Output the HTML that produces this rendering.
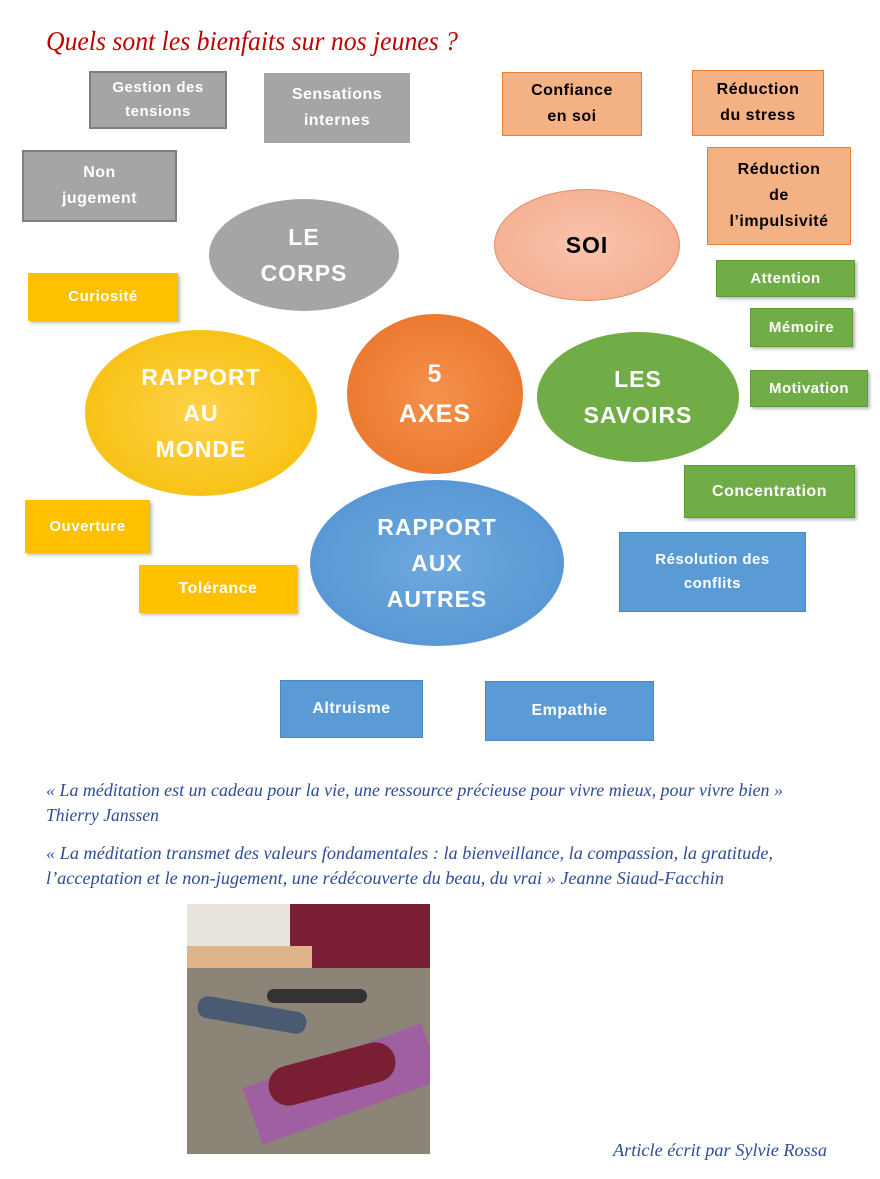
<!DOCTYPE html>
<html><head><meta charset="utf-8"><style>
body{margin:0;width:880px;height:1179px;background:#fff;position:relative;overflow:hidden;font-family:"Liberation Sans",sans-serif}
.b{position:absolute;display:flex;align-items:center;justify-content:center;text-align:center;color:#fff;font-weight:bold;font-size:16px;line-height:26px;box-sizing:border-box;letter-spacing:0.5px}
.g{background:#a5a5a5;border:2px solid #7f7f7f}
.s{background:#f4b183;border:1px solid #ed7d31;color:#000}
.gr{background:#70ad47;border:1px solid #5e9a3a;box-shadow:2px 2px 3px #bbb}
.y{background:#ffc000;box-shadow:2px 2px 3px #bbb}
.bl{background:#5b9bd5;border:1px solid #4a86c0}
.e{position:absolute;border-radius:50%;display:flex;align-items:center;justify-content:center;text-align:center;color:#fff;font-weight:bold;font-size:23px;line-height:36px;letter-spacing:1px}
</style></head><body>
<svg style="position:absolute;left:0;top:0" width="880" height="1179">
<text x="46" y="50" font-family="Liberation Serif" font-style="italic" font-size="27" fill="#c00000" textLength="412" lengthAdjust="spacingAndGlyphs">Quels sont les bienfaits sur nos jeunes ?</text>
<g font-family="Liberation Serif" font-style="italic" font-size="18" fill="#2f4b9a">
<text x="46" y="796" textLength="737" lengthAdjust="spacingAndGlyphs">« La méditation est un cadeau pour la vie, une ressource précieuse pour vivre mieux, pour vivre bien »</text>
<text x="46" y="821" textLength="113" lengthAdjust="spacingAndGlyphs">Thierry Janssen</text>
<text x="46" y="859" textLength="727" lengthAdjust="spacingAndGlyphs">« La méditation transmet des valeurs fondamentales : la bienveillance, la compassion, la gratitude,</text>
<text x="46" y="884" textLength="678" lengthAdjust="spacingAndGlyphs">l’acceptation et le non-jugement, une rédécouverte du beau, du vrai »   Jeanne Siaud-Facchin</text>
<text x="613" y="1156" textLength="214" lengthAdjust="spacingAndGlyphs">Article écrit par Sylvie Rossa</text>
</g>
</svg>
<div class="b g" style="left:89px;top:71px;width:138px;height:58px;font-size:15px;line-height:24px">Gestion des<br>tensions</div>
<div class="b g" style="left:264px;top:73px;width:146px;height:70px;border:none">Sensations<br>internes</div>
<div class="b s" style="left:502px;top:72px;width:140px;height:64px">Confiance<br>en soi</div>
<div class="b s" style="left:692px;top:70px;width:132px;height:66px">Réduction<br>du stress</div>
<div class="b s" style="left:707px;top:147px;width:144px;height:98px">Réduction<br>de<br>l’impulsivité</div>
<div class="b g" style="left:22px;top:150px;width:155px;height:72px">Non<br>jugement</div>
<div class="b gr" style="left:716px;top:260px;width:139px;height:37px;font-size:15px">Attention</div>
<div class="b gr" style="left:750px;top:308px;width:103px;height:39px;font-size:15px">Mémoire</div>
<div class="b gr" style="left:750px;top:370px;width:118px;height:37px;font-size:15px">Motivation</div>
<div class="b y" style="left:28px;top:273px;width:150px;height:48px;font-size:15px">Curiosité</div>
<div class="b gr" style="left:684px;top:465px;width:171px;height:53px">Concentration</div>
<div class="b y" style="left:25px;top:500px;width:125px;height:53px;font-size:15px">Ouverture</div>
<div class="b y" style="left:139px;top:565px;width:158px;height:48px">Tolérance</div>
<div class="b bl" style="left:619px;top:532px;width:187px;height:80px;font-size:15px;line-height:24px">Résolution des<br>conflits</div>
<div class="b bl" style="left:280px;top:680px;width:143px;height:58px">Altruisme</div>
<div class="b bl" style="left:485px;top:681px;width:169px;height:60px">Empathie</div>

<div class="e" style="left:209px;top:199px;width:190px;height:112px;background:#a5a5a5">LE<br>CORPS</div>
<div class="e" style="left:494px;top:189px;width:184px;height:110px;background:radial-gradient(#f8c4ac,#f4aa8c);border:1px solid #e88a66;color:#000">SOI</div>
<div class="e" style="left:537px;top:332px;width:202px;height:130px;background:#70ad47">LES<br>SAVOIRS</div>
<div class="e" style="left:85px;top:330px;width:232px;height:166px;background:radial-gradient(#ffd24a,#f5bc00)">RAPPORT<br>AU<br>MONDE</div>
<div class="e" style="left:310px;top:480px;width:254px;height:166px;background:radial-gradient(#6fa9df,#4f91d0)">RAPPORT<br>AUX<br>AUTRES</div>
<div class="e" style="left:347px;top:314px;width:176px;height:160px;background:radial-gradient(#f4924c,#e96f25);font-size:25px;line-height:40px">5<br>AXES</div>

<div style="position:absolute;left:187px;top:904px;width:243px;height:250px;overflow:hidden;background:#8c8478">
<div style="position:absolute;left:0;top:0;width:243px;height:80px;background:#e8e4dc"></div>
<div style="position:absolute;left:103px;top:0;width:140px;height:80px;background:#7a1f33"></div>
<div style="position:absolute;left:0;top:42px;width:125px;height:22px;background:#e0b48a"></div>
<div style="position:absolute;left:0;top:64px;width:243px;height:186px;background:#8d8478"></div>
<div style="position:absolute;left:60px;top:150px;width:190px;height:60px;background:#a05fa0;transform:rotate(-20deg)"></div>
<div style="position:absolute;left:80px;top:150px;width:130px;height:40px;background:#7a1f33;border-radius:20px;transform:rotate(-15deg)"></div>
<div style="position:absolute;left:10px;top:100px;width:110px;height:22px;background:#4a5a70;border-radius:10px;transform:rotate(10deg)"></div>
<div style="position:absolute;left:80px;top:85px;width:100px;height:14px;background:#333;border-radius:7px"></div>
</div>
</body></html>
